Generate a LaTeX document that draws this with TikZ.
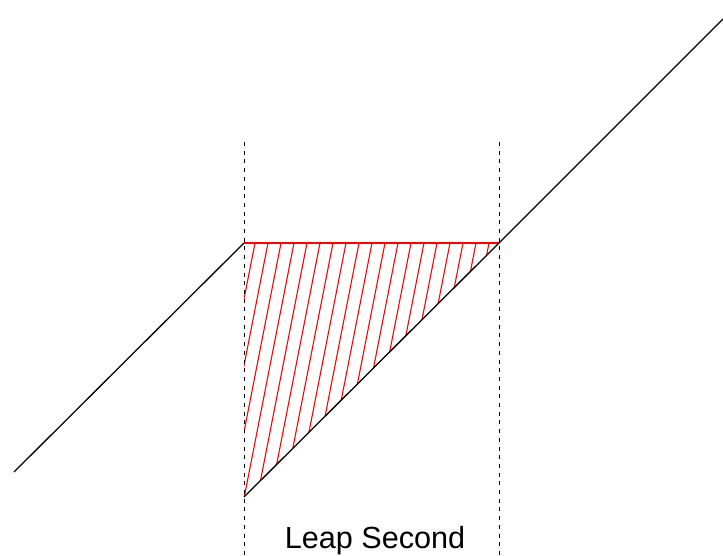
\documentclass[tikz,border=0pt]{standalone}
\usepackage{fontspec}
\setmainfont{Liberation Sans}
\usepackage{tikz}
\usetikzlibrary{positioning}

\begin{document}
\begin{tikzpicture}[
    x=1pt, y=-1pt,
    clockline/.style={draw=black, line width=1.3pt},
    marker/.style={draw=black, line width=1pt, dash pattern=on 4pt off 4.7pt},
    hatch/.style={draw=red, line width=1.1pt},
    caption/.style={font=\fontsize{30.6}{36}\selectfont, inner sep=0pt, anchor=base}
]
\useasboundingbox (0,0) rectangle (723,555);

\coordinate (start) at (14,472);
\coordinate (hold) at (244,243);
\coordinate (jump) at (244,497);
\coordinate (catch) at (499,243);
\coordinate (finish) at (723,19);

% vertical markers
\coordinate (leftTop) at (244,142);
\coordinate (leftBot) at (244,555);
\coordinate (rightTop) at (499,142);
\coordinate (rightBot) at (499,555);

% hatched region
\begin{scope}
  \clip (hold) -- (catch) -- (jump) -- cycle;
  \foreach \k in {0,...,18}
    \draw[hatch] (255+13*\k,243) -- ++(-56,286);
\end{scope}

\draw[hatch] (hold) -- (catch);

\draw[clockline] (start) -- (hold);
\draw[clockline] (jump) -- (catch) -- (finish);

\draw[marker] (leftTop) -- (leftBot);
\draw[marker] (rightTop) -- (rightBot);

\node (label) [caption] at (375,548) {Leap Second};

\end{tikzpicture}
\end{document}
